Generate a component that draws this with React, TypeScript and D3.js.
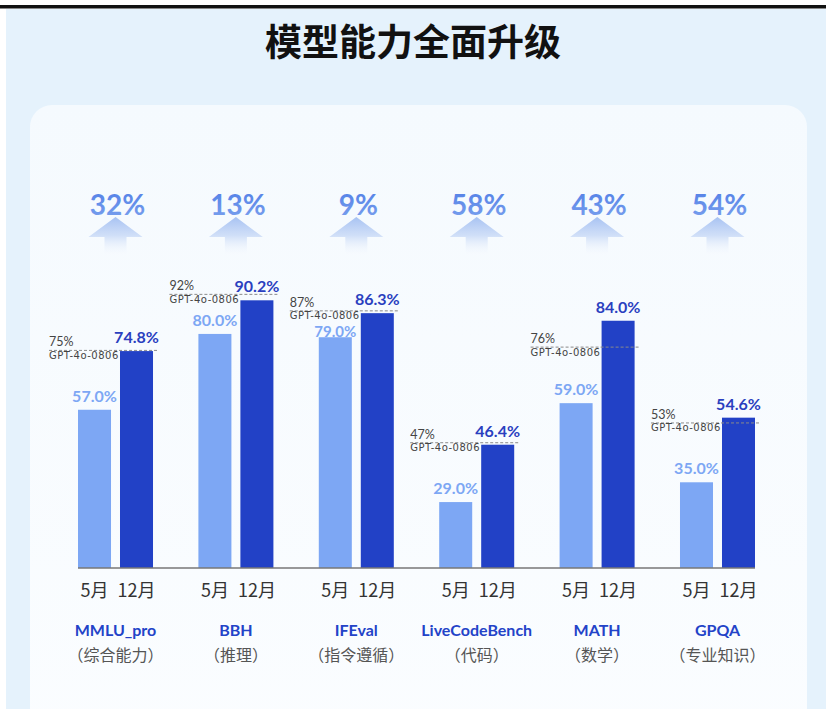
import React from "react";
import * as d3 from "d3";

const categories = ["MMLU_pro", "BBH", "IFEval", "LiveCodeBench", "MATH", "GPQA"];
const subLabels = ["（综合能力）", "（推理）", "（指令遵循）", "（代码）", "（数学）", "（专业知识）"];
const periods = ["5月", "12月"];
const mayValues = [57.0, 80.0, 79.0, 29.0, 59.0, 35.0];
const decValues = [74.8, 90.2, 86.3, 46.4, 84.0, 54.6];
const gptValues = [75, 92, 87, 47, 76, 53];
const gptLabel = "GPT-4o-0806";
const gains = ["32%", "13%", "9%", "58%", "43%", "54%"];
const title = "模型能力全面升级";

const W = 826;
const H = 709;
const LIGHT = "#7da7f4";
const DARK = "#2241c6";
const CJK = "'Noto Sans CJK SC', 'Noto Sans', sans-serif";
const NUM = "Lato, 'Open Sans', sans-serif";

export default function App() {
  const x0 = d3.scaleBand<string>().domain(categories).range([78, 755]).paddingInner(0.377).paddingOuter(0);
  const x1 = d3.scaleBand<string>().domain(periods).range([0, x0.bandwidth()]).paddingInner(0.214).paddingOuter(0);
  const y = d3.scaleLinear().domain([9, 100]).range([568, 268]);
  const baseY = y(9);
  const series = [mayValues, decValues];
  const colors = [LIGHT, DARK];
  const gptFont = 10;
  const gptOff = 8.5;

  return (
    <svg width={W} height={H} style={{ position: "absolute", left: 0, top: 0 }} fontFamily={CJK}>
      <defs>
        <linearGradient id="cardGrad" x1="0" y1="0" x2="0" y2="1">
          <stop offset="0" stopColor="#f5fafe" />
          <stop offset="1" stopColor="#fbfdff" />
        </linearGradient>
        <linearGradient id="arrowGrad" x1="0" y1="0" x2="0" y2="1">
          <stop offset="0" stopColor="#a3bff2" stopOpacity="0.95" />
          <stop offset="0.45" stopColor="#c6d8f6" stopOpacity="0.8" />
          <stop offset="1" stopColor="#ffffff" stopOpacity="0" />
        </linearGradient>
        <linearGradient id="gainGrad" x1="0" y1="0" x2="0" y2="1">
          <stop offset="0" stopColor="#4f7de6" />
          <stop offset="1" stopColor="#7ca2ee" />
        </linearGradient>
      </defs>
      <rect x={0} y={0} width={W} height={H} fill="#ffffff" />
      <rect x={6} y={9} width={W - 6} height={H - 9} fill="#e5f2fc" />
      <rect x={0} y={5} width={W} height={3.5} fill="#111" />
      <rect x={30} y={105} width={777} height={700} rx={22} fill="url(#cardGrad)" />

      <text x={413} y={56} textAnchor="middle" fontSize={37} fontWeight={700} fill="#111">
        {title}
      </text>

      {categories.map((c, i) => {
        const gx = x0(c)!;
        const cx = gx + x0.bandwidth() / 2;
        const lightX = gx + x1(periods[0])!;
        const darkX = gx + x1(periods[1])!;
        const bw = x1.bandwidth();
        const gy = y(gptValues[i]);
        const gptBottom = gy + gptOff + gptFont * 0.24;
        return (
          <g key={c}>
            {/* gain arrow */}
            <text x={cx + 2} y={215} textAnchor="middle" fontSize={28} fontWeight={700} fontFamily={NUM} fill="url(#gainGrad)">
              {gains[i]}
            </text>
            <path
              d={`M${cx},217 L${cx + 27},237 L${cx + 11},237 L${cx + 11},258 L${cx - 11},258 L${cx - 11},237 L${cx - 27},237 Z`}
              fill="url(#arrowGrad)"
            />
            {/* bars */}
            {series.map((s, k) => {
              const bx = gx + x1(periods[k])!;
              const top = y(s[i]);
              let ly = top - 8;
              let fs = 16;
              if (k === 0 && top > gy && ly - fs * 0.99 < gptBottom) {
                fs = 15;
                ly = Math.max(ly, gptBottom + fs * 0.99 + 0.3);
              }
              return (
                <g key={k}>
                  <rect x={bx} y={top} width={bw} height={baseY - top} fill={colors[k]} />
                  <text
                    x={bx + bw / 2}
                    y={ly}
                    textAnchor="middle"
                    fontSize={fs}
                    fontWeight={700}
                    fontFamily={NUM}
                    fill={k === 0 ? LIGHT : "#2a3fbf"}
                  >
                    {s[i].toFixed(1)}%
                  </text>
                </g>
              );
            })}
            {/* GPT reference */}
            <line x1={lightX - 29} x2={darkX + bw + 5} y1={gy} y2={gy} stroke="#8a8a8a" strokeWidth={1} strokeDasharray="3,2" />
            <text x={lightX - 29} y={gy - 4} fontSize={12.5} fill="#444" fontFamily={NUM}>
              {gptValues[i]}%
            </text>
            <text x={lightX - 29} y={gy + gptOff} fontSize={gptFont} fill="#444" fontFamily="'DejaVu Sans', sans-serif" letterSpacing={0.5}>
              {gptLabel}
            </text>
            {/* period labels */}
            {periods.map((p) => (
              <text key={p} x={gx + x1(p)! + bw / 2} y={597} textAnchor="middle" fontSize={18} fill="#333">
                {p}
              </text>
            ))}
            <text x={cx} y={636} textAnchor="middle" fontSize={16} fontWeight={700} fill="#2343c8" fontFamily={NUM}>
              {c}
            </text>
            <text x={cx} y={661} textAnchor="middle" fontSize={16} fill="#555">
              {subLabels[i]}
            </text>
          </g>
        );
      })}
      <line x1={x0.range()[0]} x2={x0.range()[1]} y1={baseY} y2={baseY} stroke="#777" strokeWidth={1.5} />
    </svg>
  );
}
